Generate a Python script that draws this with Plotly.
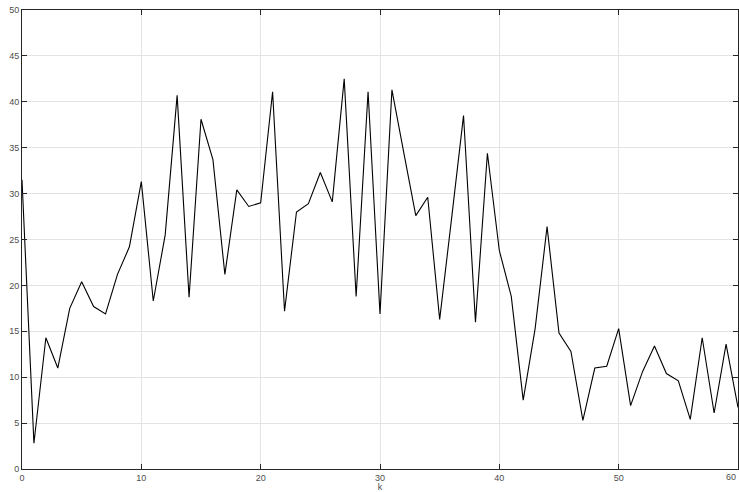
import plotly.graph_objects as go

k = list(range(61))
values = [31.5, 2.8, 14.3, 11.0, 17.5, 20.4, 17.7, 16.9, 21.2, 24.2,
          31.3, 18.3, 25.5, 40.7, 18.7, 38.1, 33.7, 21.2, 30.4, 28.6,
          29.0, 41.1, 17.2, 28.0, 28.9, 32.3, 29.1, 42.5, 18.8, 41.1,
          16.9, 41.3, 34.4, 27.6, 29.6, 16.3, 27.3, 38.5, 16.0, 34.4,
          23.8, 18.8, 7.5, 15.3, 26.4, 14.8, 12.8, 5.3, 11.0, 11.2,
          15.3, 6.9, 10.6, 13.4, 10.4, 9.6, 5.4, 14.3, 6.1, 13.6,
          6.7]
x_ticks = [0, 10, 20, 30, 40, 50, 60]
y_ticks = [0, 5, 10, 15, 20, 25, 30, 35, 40, 45, 50]

FONT = "Liberation Sans, Arial, sans-serif"
TICK_COLOR = "#4d4d4d"

fig = go.Figure()
fig.add_trace(go.Scatter(x=k, y=values, mode="lines",
                         line=dict(color="black", width=1.1),
                         showlegend=False, hoverinfo="skip"))

axis_common = dict(
    showgrid=True, gridcolor="#e3e3e3", gridwidth=1,
    showline=True, linecolor="#262626", linewidth=1, mirror="ticks",
    ticks="inside", ticklen=5, tickcolor="#262626", tickwidth=1,
    zeroline=False, automargin=False,
    tickfont=dict(family=FONT, size=9, color=TICK_COLOR),
)

fig.update_xaxes(range=[0, 60], tickvals=x_ticks, ticktext=[str(t) for t in x_ticks],
                 title=dict(text="k", font=dict(family=FONT, size=9, color=TICK_COLOR)),
                 **axis_common)
fig.update_yaxes(range=[0, 50], tickvals=y_ticks, ticktext=[str(t) for t in y_ticks],
                 **axis_common)

# last x tick label sits at the right edge of the page
fig.add_annotation(x=x_ticks[-1], xref="x", y=0, yref="paper",
                   text=str(x_ticks[-1]), showarrow=False,
                   xanchor="right", yanchor="top", yshift=-1,
                   font=dict(family=FONT, size=9, color=TICK_COLOR))

fig.update_layout(
    width=739, height=492,
    margin=dict(l=22, r=1, t=10, b=23),
    plot_bgcolor="white", paper_bgcolor="white",
)

fig.write_html("out.html", config={"displayModeBar": False},
               post_script="document.body.style.margin='0px';")
